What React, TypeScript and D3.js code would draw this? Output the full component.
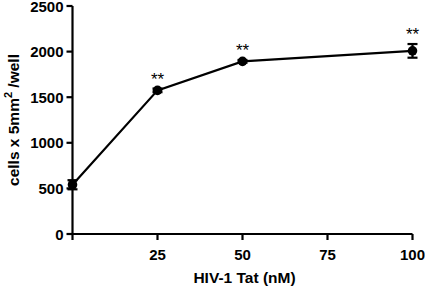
import React from "react";
import * as d3 from "d3";

const doses = [0, 25, 50, 100];
const means = [540, 1575, 1893, 2008];
const errors = [50, 20, 15, 75];
const significance = ["", "**", "**", "**"];
const xTicks = [25, 50, 75, 100];
const yTicks = [0, 500, 1000, 1500, 2000, 2500];

export default function App() {
  const W = 425, H = 286;
  const x = d3.scaleLinear().domain([0, 100]).range([72.5, 412.5]);
  const y = d3.scaleLinear().domain([0, 2500]).range([234, 6]);
  const line = d3.line<number>().x((_, i) => x(doses[i])).y((d) => y(d));
  const font = "Liberation Sans, Arial, sans-serif";
  return (
    <svg width={W} height={H} style={{ position: "absolute", left: 0, top: 0 }} fontFamily={font}>
      <rect width={W} height={H} fill="#fff" />
      <line x1={x(0)} x2={x(0)} y1={y(2500)} y2={y(0) + 6} stroke="#000" strokeWidth={2.2} />
      <line x1={x(0)} x2={x(100)} y1={y(0)} y2={y(0)} stroke="#000" strokeWidth={2.2} />
      {yTicks.map((t) => (
        <g key={t}>
          <line x1={x(0) - 6} x2={x(0)} y1={y(t)} y2={y(t)} stroke="#000" strokeWidth={2.2} />
          <text x={x(0) - 9} y={y(t)} dy="0.37em" textAnchor="end" fontWeight="bold" fontSize={15}>
            {t}
          </text>
        </g>
      ))}
      {xTicks.map((t) => (
        <g key={t}>
          <line x1={x(t)} x2={x(t)} y1={y(0)} y2={y(0) + 6} stroke="#000" strokeWidth={2.2} />
          <text x={x(t)} y={y(0) + 21} dy="0.36em" textAnchor="middle" fontWeight="bold" fontSize={15}>
            {t}
          </text>
        </g>
      ))}
      <text x={(x(0) + x(100)) / 2 + 2} y={277} dy="0.36em" textAnchor="middle" fontWeight="bold" fontSize={15.5}>
        HIV-1 Tat (nM)
      </text>
      <text transform="translate(19,120) rotate(-90)" textAnchor="middle" fontWeight="bold" fontSize={15.5}>
        cells x 5mm<tspan dy="-7" fontSize={11}>2</tspan><tspan dy="7"> /well</tspan>
      </text>
      <path d={line(means) || ""} fill="none" stroke="#000" strokeWidth={2.2} />
      {means.map((m, i) => (
        <g key={i}>
          <line x1={x(doses[i])} x2={x(doses[i])} y1={y(m - errors[i])} y2={y(m + errors[i])} stroke="#000" strokeWidth={2.2} />
          <line x1={x(doses[i]) - 5} x2={x(doses[i]) + 5} y1={y(m - errors[i])} y2={y(m - errors[i])} stroke="#000" strokeWidth={2.2} />
          <line x1={x(doses[i]) - 5} x2={x(doses[i]) + 5} y1={y(m + errors[i])} y2={y(m + errors[i])} stroke="#000" strokeWidth={2.2} />
          <circle cx={x(doses[i])} cy={y(m)} r={4.8} fill="#000" />
          {significance[i] && (
            <text x={x(doses[i])} y={y(m + errors[i]) - 4} textAnchor="middle" fontSize={17}>
              {significance[i]}
            </text>
          )}
        </g>
      ))}
    </svg>
  );
}
